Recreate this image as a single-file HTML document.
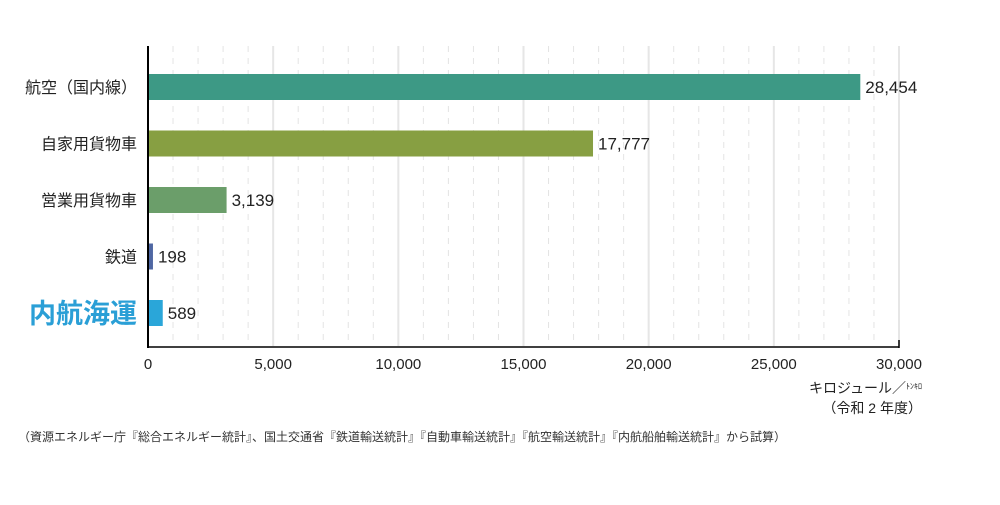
<!DOCTYPE html>
<html><head><meta charset="utf-8"><style>
body{margin:0;background:#fff;width:1000px;height:500px;overflow:hidden;font-family:"Liberation Sans","Noto Sans CJK JP",sans-serif}
</style></head><body>
<svg width="1000" height="500">
<g id="grid"></g><g id="bars"></g><g id="labels"></g>
<line x1="148" y1="46" x2="148" y2="348" stroke="#000" stroke-width="2"/>
<line x1="147" y1="347" x2="899" y2="347" stroke="#000" stroke-width="1.5"/>
<line x1="899" y1="340" x2="899" y2="348" stroke="#000" stroke-width="1.5"/>
<g id="ticks"></g>
<text x="922" y="393" text-anchor="end" font-size="14" fill="#222">キロジュール／<tspan font-size="8" dy="-4">ﾄﾝ</tspan><tspan font-size="8">ｷﾛ</tspan></text>
<text x="922" y="413" text-anchor="end" font-size="14" fill="#222">（令和 2 年度）</text>
<text x="18" y="441" font-size="12" fill="#333">（資源エネルギー庁『総合エネルギー統計』、国土交通省『鉄道輸送統計』『自動車輸送統計』『航空輸送統計』『内航船舶輸送統計』から試算）</text>
</svg>
<script>
const categories=["航空（国内線）","自家用貨物車","営業用貨物車","鉄道","内航海運"];
const values=[28454,17777,3139,198,589];
const valueLabels=["28,454","17,777","3,139","198","589"];
const tickValues=[0,5000,10000,15000,20000,25000,30000];
const tickLabels=["0","5,000","10,000","15,000","20,000","25,000","30,000"];
const colors=["#3d9985","#879f42","#6b9e6a","#4f67a3","#2aa6d9"];
const NS="http://www.w3.org/2000/svg";
const x=v=>148+v*(751/30000);
const yTop=i=>74+i*56.5;
function mk(t,a,p){const e=document.createElementNS(NS,t);for(const k in a)e.setAttribute(k,a[k]);document.getElementById(p).appendChild(e);return e;}
for(let v=1000;v<=30000;v+=1000){
 const major=v%5000===0;
 const l=mk("line",{x1:x(v),x2:x(v),y1:46,y2:346,stroke:major?"#e6e6e6":"#e4e4e4","stroke-width":major?2:1,"stroke-dasharray":major?"":"6,6"},"grid");
 
 
}
tickValues.forEach((v,i)=>{
 const t=mk("text",{x:x(v),y:369,"text-anchor":"middle","font-size":15,fill:"#222"},"ticks");
 t.textContent=tickLabels[i];
 
 
});
categories.forEach((c,i)=>{
 const y=yTop(i);
 const r=mk("rect",{x:149,y:y,width:x(values[i])-149,height:26,fill:colors[i]},"bars");
 
 
 const v=mk("text",{x:x(values[i])+5,y:y+19,"font-size":17,fill:"#222"},"labels");
 v.textContent=valueLabels[i];
 
 
 const last=i===categories.length-1;
 const t=mk("text",{x:137,y:y+(last?23:19),"text-anchor":"end","font-size":last?27:16,"font-weight":last?"bold":"normal",fill:last?"#2a9fd6":"#222"},"labels");
 t.textContent=c;
 
 
});
</script>
</body></html>
